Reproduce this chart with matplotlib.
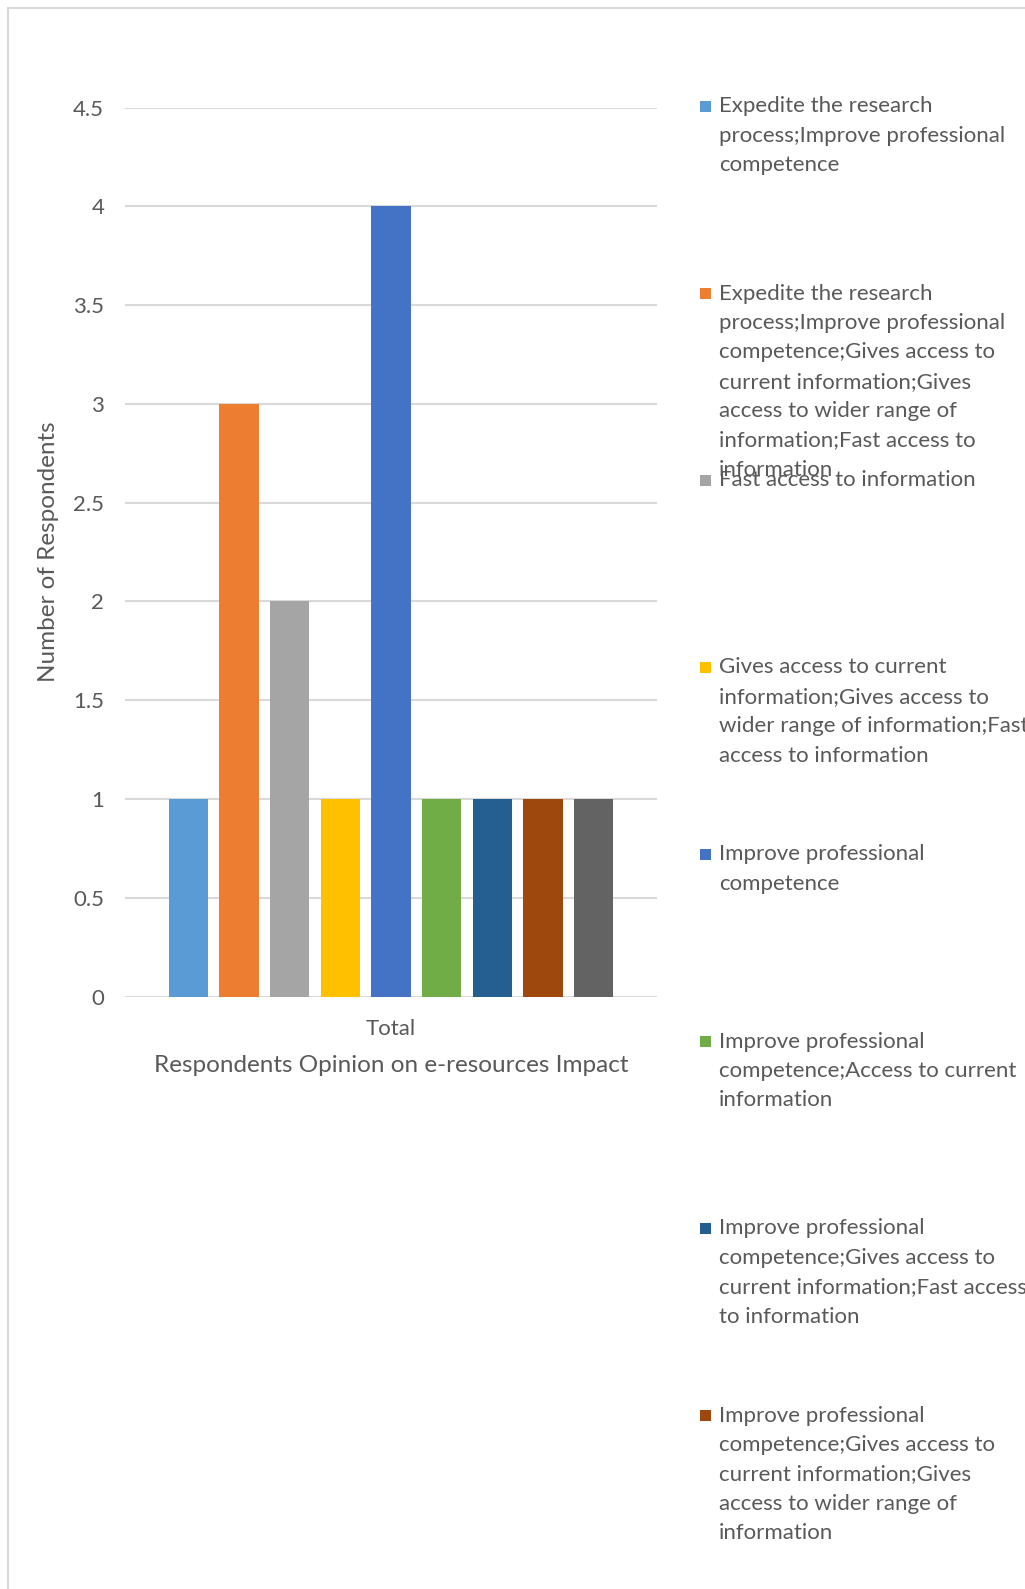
import matplotlib
matplotlib.use("Agg")
import matplotlib.pyplot as plt
from matplotlib.patches import Rectangle

# ---- data ----
categories = ["Total"]
series_labels = [
    "Expedite the research\nprocess;Improve professional\ncompetence",
    "Expedite the research\nprocess;Improve professional\ncompetence;Gives access to\ncurrent information;Gives\naccess to wider range of\ninformation;Fast access to\ninformation",
    "Fast access to information",
    "Gives access to current\ninformation;Gives access to\nwider range of information;Fast\naccess to information",
    "Improve professional\ncompetence",
    "Improve professional\ncompetence;Access to current\ninformation",
    "Improve professional\ncompetence;Gives access to\ncurrent information;Fast access\nto information",
    "Improve professional\ncompetence;Gives access to\ncurrent information;Gives\naccess to wider range of\ninformation",
    "",
]
series_values = [1, 3, 2, 1, 4, 1, 1, 1, 1]
series_colors = ["#5b9bd5", "#ed7d31", "#a5a5a5", "#ffc000", "#4472c4",
                 "#70ad47", "#255e91", "#9e480e", "#636363"]
yticks = [0, 0.5, 1, 1.5, 2, 2.5, 3, 3.5, 4, 4.5]
ytick_labels = ["0", "0.5", "1", "1.5", "2", "2.5", "3", "3.5", "4", "4.5"]
y_title = "Number of Respondents"
x_title = "Respondents Opinion on e-resources Impact"

FONT = ["Lato", "DejaVu Sans"]
TXT = "#595959"
W, H = 1025, 1589
fig = plt.figure(figsize=(W / 100, H / 100), dpi=100)

def fx(px):
    return px / W

def fy(py):
    return 1 - py / H

# outer chart border
fig.patches.append(Rectangle((fx(8), fy(H + 50)), 2.0, fy(7.5) - fy(H + 50),
                             transform=fig.transFigure, fill=False,
                             edgecolor="#d9d9d9", linewidth=1.5))

ax_l, ax_r, ax_t, ax_b = 125, 657, 107.5, 996.6
ax = fig.add_axes([fx(ax_l), fy(ax_b), fx(ax_r - ax_l), fy(ax_t) - fy(ax_b)])

for i, (v, c) in enumerate(zip(series_values, series_colors)):
    ax.bar(i, v, width=0.78, color=c, zorder=3)

ax.set_ylim(0, 4.5)
ax.set_xlim(-1.25, 9.25)
ax.set_yticks(yticks)
ax.set_yticklabels(ytick_labels, fontsize=16, color=TXT, family=FONT)
ax.set_xticks([(len(series_values) - 1) / 2])
ax.set_xticklabels(categories, fontsize=16, color=TXT, family=FONT)
ax.tick_params(axis="y", length=0, pad=15)
ax.tick_params(axis="x", length=0, pad=16)
ax.grid(axis="y", color="#d9d9d9", linewidth=1.5, zorder=0)
for s in ax.spines.values():
    s.set_visible(False)
ax.set_ylabel(y_title, fontsize=17.5, color=TXT, family=FONT, labelpad=10)
ax.set_xlabel(x_title, fontsize=17.5, color=TXT, family=FONT, labelpad=12)

# legend (manual, like Excel's cropped legend)
first_line = 106.5
entry_step = 187.0
line_step = 29.4
for k, (lab, c) in enumerate(zip(series_labels, series_colors)):
    if not lab:
        continue
    y0 = first_line + k * entry_step
    fig.patches.append(Rectangle((fx(700), fy(y0 + 5.5)), fx(11), fy(y0 - 5.5) - fy(y0 + 5.5),
                                 transform=fig.transFigure, facecolor=c, edgecolor="none"))
    for j, line in enumerate(lab.split("\n")):
        fig.text(fx(719), fy(y0 + j * line_step), line, fontsize=16, color=TXT,
                 family=FONT, ha="left", va="center")

fig.savefig("out.png", dpi=100)
